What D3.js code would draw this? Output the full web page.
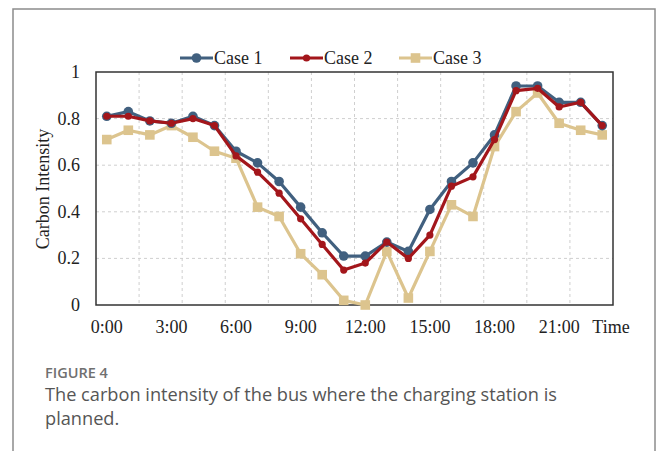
<!DOCTYPE html>
<html lang="en">
<head>
<meta charset="UTF-8">
<script src="https://cdn.jsdelivr.net/npm/d3@7"></script>
<title>Carbon intensity</title>
<style>
  body { margin: 0; background: #fff; }
</style>
</head>
<body>
<script>
    // hours 0..23
    var hours = d3.range(24);
    var tickHours = [0, 3, 6, 9, 12, 15, 18, 21];
    var yTicks = [0, 0.2, 0.4, 0.6, 0.8, 1];
    var seriesNames = ["Case 1", "Case 2", "Case 3"];

    var case1 = [0.81, 0.83, 0.79, 0.78, 0.81, 0.77, 0.66, 0.61, 0.53, 0.42, 0.31, 0.21,
                 0.21, 0.27, 0.23, 0.41, 0.53, 0.61, 0.73, 0.94, 0.94, 0.87, 0.87, 0.77];
    var case2 = [0.81, 0.81, 0.79, 0.78, 0.80, 0.77, 0.64, 0.57, 0.48, 0.37, 0.26, 0.15,
                 0.18, 0.27, 0.20, 0.30, 0.51, 0.55, 0.71, 0.92, 0.93, 0.85, 0.87, 0.77];
    var case3 = [0.71, 0.75, 0.73, 0.77, 0.72, 0.66, 0.63, 0.42, 0.38, 0.22, 0.13, 0.02,
                 0.00, 0.23, 0.03, 0.23, 0.43, 0.38, 0.68, 0.83, 0.91, 0.78, 0.75, 0.73];

    var colors = ["#41607f", "#a3161b", "#dcc48e"];
    var markers = ["circle", "dot", "square"];

    var svg = d3.select("body").append("svg")
        .attr("width", 658)
        .attr("height", 451);

    // figure frame
    svg.append("rect")
        .attr("x", 13).attr("y", 9)
        .attr("width", 642).attr("height", 460)
        .attr("fill", "none")
        .attr("stroke", "#8c8c8c")
        .attr("stroke-width", 1.5);

    var pLeft = 96, pRight = 613, pTop = 72, pBottom = 305;

    var x = d3.scaleBand().domain(hours).range([pLeft, pRight]);
    var cx = d => x(d) + x.bandwidth() / 2;
    var y = d3.scaleLinear().domain([0, 1]).range([pBottom, pTop]);

    var font = "'Liberation Serif', 'Times New Roman', serif";

    // grid
    var grid = svg.append("g").attr("stroke", "#cfcfcf").attr("stroke-dasharray", "3,3").attr("stroke-width", 1);
    grid.selectAll("line.h")
        .data(yTicks.filter(d => d > 0 && d < 1))
        .enter().append("line")
        .attr("x1", pLeft).attr("x2", pRight)
        .attr("y1", d => y(d)).attr("y2", d => y(d));
    grid.selectAll("line.v")
        .data(hours.filter(h => h > 0 && h % 2 == 0))
        .enter().append("line")
        .attr("x1", d => x(d)).attr("x2", d => x(d))
        .attr("y1", pTop).attr("y2", pBottom);

    // plot frame
    svg.append("rect")
        .attr("x", pLeft).attr("y", pTop)
        .attr("width", pRight - pLeft).attr("height", pBottom - pTop)
        .attr("fill", "none")
        .attr("stroke", "#333")
        .attr("stroke-width", 1.5);

    // y ticks
    svg.selectAll("text.yt")
        .data(yTicks)
        .enter().append("text")
        .attr("x", 80)
        .attr("y", d => y(d) + 6)
        .attr("text-anchor", "end")
        .attr("font-family", font)
        .attr("font-size", 18)
        .attr("fill", "#222")
        .text(d => d3.format("")(d));

    // x ticks
    svg.selectAll("text.xt")
        .data(tickHours)
        .enter().append("text")
        .attr("x", d => cx(d))
        .attr("y", 333)
        .attr("text-anchor", "middle")
        .attr("font-family", font)
        .attr("font-size", 18)
        .attr("fill", "#222")
        .text(d => d + ":00");

    svg.append("text")
        .attr("x", 611).attr("y", 333)
        .attr("text-anchor", "middle")
        .attr("font-family", font).attr("font-size", 18).attr("fill", "#222")
        .text("Time");

    svg.append("text")
        .attr("transform", "translate(49,189) rotate(-90)")
        .attr("text-anchor", "middle")
        .attr("font-family", font).attr("font-size", 18).attr("fill", "#222")
        .text("Carbon Intensity");

    function drawMarker(g, kind, color, px, py) {
        if (kind == "circle") {
            g.append("circle").attr("cx", px).attr("cy", py).attr("r", 4.8).attr("fill", color);
        } else if (kind == "dot") {
            g.append("circle").attr("cx", px).attr("cy", py).attr("r", 3.6).attr("fill", color);
        } else {
            g.append("rect").attr("x", px - 4.8).attr("y", py - 4.8)
                .attr("width", 9.6).attr("height", 9.6).attr("fill", color);
        }
    }

    var line = d3.line().x((d, i) => cx(i)).y(d => y(d));
    var allSeries = [case1, case2, case3];

    // case 3 first, then 1, then 2 on top
    [2, 0, 1].forEach(function (s) {
        var g = svg.append("g");
        g.append("path")
            .datum(allSeries[s])
            .attr("d", line)
            .attr("fill", "none")
            .attr("stroke", colors[s])
            .attr("stroke-width", 3.2)
            .attr("stroke-linejoin", "round");
        allSeries[s].forEach(function (v, i) {
            drawMarker(g, markers[s], colors[s], cx(i), y(v));
        });
    });

    // legend
    var legendX = [180, 290, 399];
    seriesNames.forEach(function (name, s) {
        var g = svg.append("g");
        var lx = legendX[s];
        g.append("line")
            .attr("x1", lx).attr("x2", lx + 33)
            .attr("y1", 58).attr("y2", 58)
            .attr("stroke", colors[s]).attr("stroke-width", 3.2);
        drawMarker(g, markers[s], colors[s], lx + 16.5, 58);
        g.append("text")
            .attr("x", lx + 34).attr("y", 64)
            .attr("font-family", font).attr("font-size", 18).attr("fill", "#222")
            .text(name);
    });

    // caption
    var capFont = "'Open Sans', Lato, sans-serif";
    svg.append("text")
        .attr("x", 45).attr("y", 378)
        .attr("font-family", capFont).attr("font-size", 14.5).attr("font-weight", 600)
        .attr("fill", "#707070")
        .text("FIGURE 4");
    svg.append("text")
        .attr("x", 45).attr("y", 401)
        .attr("font-family", capFont).attr("font-size", 18.2).attr("fill", "#555")
        .text("The carbon intensity of the bus where the charging station is");
    svg.append("text")
        .attr("x", 45).attr("y", 425)
        .attr("font-family", capFont).attr("font-size", 18.2).attr("fill", "#555")
        .text("planned.");
</script>
</body>
</html>
